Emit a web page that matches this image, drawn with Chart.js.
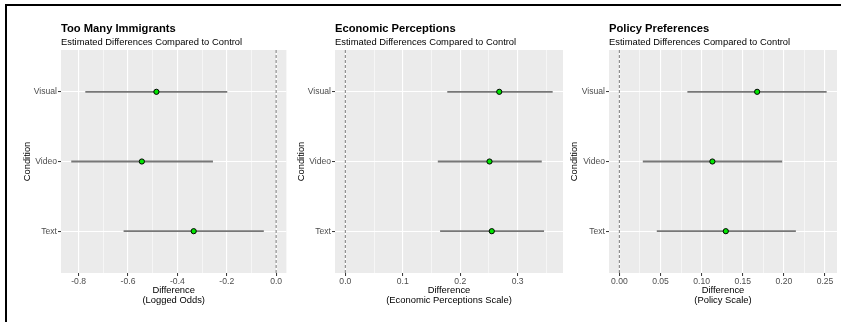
<!DOCTYPE html>
<html><head><meta charset="utf-8">
<script src="https://cdn.jsdelivr.net/npm/chart.js@4"></script>
<style>
html,body{margin:0;padding:0;background:#fff;width:850px;height:322px;overflow:hidden;position:relative}
canvas{position:absolute;top:0}
.bl{position:absolute;background:#000}
</style></head><body>
<div class="bl" style="left:5px;top:4px;width:836px;height:2px"></div>
<div class="bl" style="left:5px;top:4px;width:2px;height:318px"></div>
<canvas id="c1" width="290" height="322" style="left:0;width:290px;height:322px"></canvas>
<canvas id="c2" width="285" height="322" style="left:285px;width:285px;height:322px"></canvas>
<canvas id="c3" width="290" height="322" style="left:560px;width:290px;height:322px"></canvas>
<script>
// ---- data ----
const CONDITIONS = ['Text', 'Video', 'Visual']; // bottom to top

const TMI_EST = [-0.334, -0.544, -0.485];
const TMI_LO  = [-0.618, -0.830, -0.773];
const TMI_HI  = [-0.050, -0.256, -0.198];
const TMI_RANGE = [-0.8715, 0.0415];
const TMI_MAJOR = [-0.8, -0.6, -0.4, -0.2, 0.0];
const TMI_LABELS = ['-0.8', '-0.6', '-0.4', '-0.2', '0.0'];
const TMI_MINOR = [-0.7, -0.5, -0.3, -0.1];

const ECON_EST = [0.255, 0.251, 0.268];
const ECON_LO  = [0.165, 0.161, 0.1775];
const ECON_HI  = [0.346, 0.342, 0.361];
const ECON_RANGE = [-0.018, 0.379];
const ECON_MAJOR = [0.0, 0.1, 0.2, 0.3];
const ECON_LABELS = ['0.0', '0.1', '0.2', '0.3'];
const ECON_MINOR = [0.05, 0.15, 0.25, 0.35];

const POL_EST = [0.1294, 0.1131, 0.1675];
const POL_LO  = [0.0455, 0.0285, 0.0827];
const POL_HI  = [0.2146, 0.198, 0.252];
const POL_RANGE = [-0.0126, 0.2646];
const POL_MAJOR = [0.00, 0.05, 0.10, 0.15, 0.20, 0.25];
const POL_LABELS = ['0.00', '0.05', '0.10', '0.15', '0.20', '0.25'];
const POL_MINOR = [0.025, 0.075, 0.125, 0.175, 0.225];

const REF_X = 0;

// ---- drawing ----
const FONT = '"Liberation Sans", Arial, Helvetica, sans-serif';
const isIn = (arr, v) => arr.some(m => Math.abs(m - v) < 1e-9);

function makePanel(id, p) {
  const datasets = [{
    type: 'scatter',
    data: p.est.map((v, i) => ({x: v, y: i + 1})),
    pointRadius: 2.6, pointHoverRadius: 2.6,
    backgroundColor: '#00e600', borderColor: '#000', borderWidth: 1,
    order: 0
  }];
  p.lo.forEach((lo, i) => {
    datasets.push({
      type: 'line',
      data: [{x: lo, y: i + 1}, {x: p.hi[i], y: i + 1}],
      borderColor: '#777777', borderWidth: 1.8, pointRadius: 0, fill: false,
      order: 1
    });
  });
  const allTicks = p.major.concat(p.minor).sort((a, b) => a - b);
  const panelPlugin = {
    id: 'panel' + id,
    beforeDraw(chart) {
      const {ctx, chartArea: a} = chart;
      ctx.save();
      ctx.fillStyle = '#EBEBEB';
      ctx.fillRect(a.left, a.top, a.right - a.left, a.bottom - a.top);
      ctx.restore();
    },
    beforeDatasetsDraw(chart) {
      const {ctx, chartArea: a} = chart;
      const x = chart.scales.x.getPixelForValue(REF_X);
      ctx.save();
      ctx.strokeStyle = '#444';
      ctx.lineWidth = 0.7;
      ctx.setLineDash([3, 2]);
      ctx.beginPath();
      ctx.moveTo(x, a.top); ctx.lineTo(x, a.bottom);
      ctx.stroke();
      ctx.restore();
    },
    afterDraw(chart) {
      const {ctx, chartArea: a} = chart;
      ctx.save();
      ctx.fillStyle = '#000';
      ctx.textBaseline = 'alphabetic';
      ctx.textAlign = 'left';
      ctx.font = 'bold 11.2px ' + FONT;
      ctx.fillText(p.title, a.left, 32);
      ctx.font = '9.4px ' + FONT;
      ctx.fillText(p.subtitle, a.left, 45);
      ctx.restore();
    }
  };
  new Chart(document.getElementById(id), {
    type: 'scatter',
    data: {datasets},
    plugins: [panelPlugin],
    options: {
      responsive: false, animation: false, events: [],
      layout: {padding: {top: 50, right: p.padRight, bottom: 0, left: 0}},
      plugins: {legend: {display: false}, tooltip: {enabled: false}, title: {display: false}},
      scales: {
        x: {
          type: 'linear', min: p.range[0], max: p.range[1],
          afterBuildTicks: s => { s.ticks = allTicks.map(v => ({value: v})); },
          afterFit: s => { s.height = 49; },
          border: {display: false},
          grid: {
            color: '#fff',
            lineWidth: c => (c.tick && isIn(p.major, c.tick.value)) ? 1.1 : 0.55,
            tickLength: 3, tickWidth: 1,
            tickColor: c => (c.tick && isIn(p.major, c.tick.value)) ? '#333' : 'rgba(0,0,0,0)'
          },
          ticks: {
            autoSkip: false, maxRotation: 0, padding: 0,
            color: '#4d4d4d', font: {family: FONT, size: 8.6},
            callback: v => { const k = p.major.findIndex(m => Math.abs(m - v) < 1e-9); return k >= 0 ? p.labels[k] : ''; }
          },
          title: {
            display: true, text: p.xTitle, color: '#000',
            font: {family: FONT, size: 9.4, lineHeight: '10px'},
            padding: {top: 0, bottom: 16.3}
          }
        },
        y: {
          type: 'linear', min: 0.4, max: 3.6,
          afterBuildTicks: s => { s.ticks = CONDITIONS.map((c, i) => ({value: i + 1})); },
          afterFit: s => { s.width = p.yWidth; },
          border: {display: false},
          grid: {color: '#fff', lineWidth: 1.1, tickLength: 3, tickWidth: 1, tickColor: '#333'},
          ticks: {
            autoSkip: false, padding: 1,
            color: '#4d4d4d', font: {family: FONT, size: 8.6},
            callback: v => CONDITIONS[Math.round(v) - 1]
          },
          title: {
            display: true, text: 'Condition', color: '#000',
            font: {family: FONT, size: 9.4},
            padding: {top: p.yTitlePad, bottom: 0}
          }
        }
      }
    }
  });
}

makePanel('c1', {
  title: 'Too Many Immigrants', subtitle: 'Estimated Differences Compared to Control',
  xTitle: ['Difference', '(Logged Odds)'],
  est: TMI_EST, lo: TMI_LO, hi: TMI_HI, range: TMI_RANGE,
  major: TMI_MAJOR, labels: TMI_LABELS, minor: TMI_MINOR,
  yWidth: 61, yTitlePad: 21.4, padRight: 1
});
makePanel('c2', {
  title: 'Economic Perceptions', subtitle: 'Estimated Differences Compared to Control',
  xTitle: ['Difference', '(Economic Perceptions Scale)'],
  est: ECON_EST, lo: ECON_LO, hi: ECON_HI, range: ECON_RANGE,
  major: ECON_MAJOR, labels: ECON_LABELS, minor: ECON_MINOR,
  yWidth: 50, yTitlePad: 10.9, padRight: 7
});
makePanel('c3', {
  title: 'Policy Preferences', subtitle: 'Estimated Differences Compared to Control',
  xTitle: ['Difference', '(Policy Scale)'],
  est: POL_EST, lo: POL_LO, hi: POL_HI, range: POL_RANGE,
  major: POL_MAJOR, labels: POL_LABELS, minor: POL_MINOR,
  yWidth: 49, yTitlePad: 8.4, padRight: 13
});
</script>
</body></html>
